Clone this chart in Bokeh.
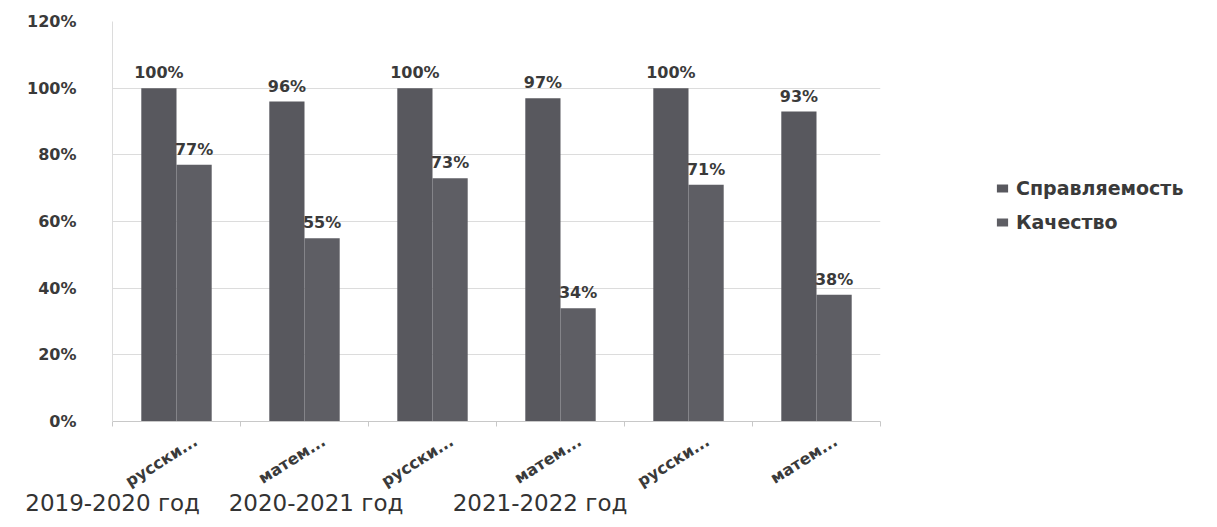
import math
from bokeh.plotting import figure
from bokeh.layouts import row
from bokeh.models import (ColumnDataSource, FixedTicker, NumeralTickFormatter, Legend,
                          LegendItem, LinearAxis, Range1d)
from bokeh.core.properties import value
from bokeh.embed import file_html
from bokeh.resources import INLINE

subjects = ["русски...", "матем...", "русски...", "матем...", "русски...", "матем..."]
years = ["2019-2020 год", "2020-2021 год", "2021-2022 год"]
series_names = ["Справляемость", "Качество"]
spravl = [1.00, 0.96, 1.00, 0.97, 1.00, 0.93]
kachestvo = [0.77, 0.55, 0.73, 0.34, 0.71, 0.38]
y_ticks = [0, 0.2, 0.4, 0.6, 0.8, 1.0, 1.2]

n = len(subjects)
xc = [i + 0.5 for i in range(n)]
bw = 0.275
c1 = "#58585e"
c2 = "#5e5e64"
txt = "#3a3a3a"
bold_font = "DejaVu Sans"

def pct(v):
    return f"{round(v * 100)}%"

src1 = ColumnDataSource(dict(x=[c - bw / 2 for c in xc], top=spravl, lab=[pct(v) for v in spravl]))
src2 = ColumnDataSource(dict(x=[c + bw / 2 for c in xc], top=kachestvo, lab=[pct(v) for v in kachestvo]))

p = figure(width=920, height=519, output_backend="svg", toolbar_location=None,
           x_range=Range1d(0, n), y_range=Range1d(0, 1.2),
           min_border_left=112, min_border_right=40, min_border_top=21, min_border_bottom=98)
p.outline_line_color = None

r1 = p.vbar(x="x", top="top", width=bw, source=src1, fill_color=c1, line_color=None)
r2 = p.vbar(x="x", top="top", width=bw, source=src2, fill_color=c2, line_color=None)

for s in (src1, src2):
    p.text(x="x", y="top", text="lab", source=s, text_align="center", text_baseline="bottom",
           y_offset=-6, text_font=value(bold_font), text_font_style="bold", text_font_size="16px",
           text_color=txt)

# category axis (labels slightly right of the bar pair, as in the picture)
label_shift = 0.15
lab_ticks = [c + label_shift for c in xc]
p.xaxis.ticker = FixedTicker(ticks=lab_ticks, minor_ticks=list(range(n + 1)))
p.xaxis.major_label_overrides = {c: s for c, s in zip(lab_ticks, subjects)}
p.xaxis.major_label_orientation = 0.56
p.xaxis.major_label_text_font = bold_font
p.xaxis.major_label_text_font_style = "bold"
p.xaxis.major_label_text_font_size = "16px"
p.xaxis.major_label_text_color = txt
p.xaxis.major_tick_line_color = None
p.xaxis.minor_tick_line_color = "#c8c8c8"
p.xaxis.minor_tick_out = 5
p.xaxis.minor_tick_in = 0
p.xaxis.axis_line_color = "#c8c8c8"
p.xaxis.major_label_standoff = 12

p.yaxis.ticker = FixedTicker(ticks=y_ticks)
p.yaxis.formatter = NumeralTickFormatter(format="0%")
p.yaxis.major_label_text_font = bold_font
p.yaxis.major_label_text_font_style = "bold"
p.yaxis.major_label_text_font_size = "16px"
p.yaxis.major_label_text_color = txt
p.yaxis.major_tick_line_color = None
p.yaxis.minor_tick_line_color = None
p.yaxis.axis_line_color = "#dcdcdc"
p.yaxis.major_label_standoff = 30

p.xgrid.grid_line_color = None
p.ygrid.grid_line_color = "#dcdcdc"

# year group labels: a second bottom axis
year_pos = [0.001, 1.59, 3.34]
ax2 = LinearAxis(ticker=FixedTicker(ticks=year_pos),
                 major_label_overrides={v: t for v, t in zip(year_pos, years)},
                 axis_line_color=None, major_tick_line_color=None, minor_tick_line_color=None,
                 major_label_text_font="DejaVu Sans", major_label_text_font_size="23px",
                 major_label_text_color="#333333", major_label_standoff=-18)
p.add_layout(ax2, "below")

# legend panel on the right (uses the same data sources, renderers hidden)
p2 = figure(width=280, height=519, output_backend="svg", toolbar_location=None,
            min_border=0, x_range=Range1d(0, 1), y_range=Range1d(0, 1))
p2.axis.visible = False
p2.grid.visible = False
p2.outline_line_color = None
g1 = p2.vbar(x="x", top="top", width=bw, source=src1, fill_color=c1, line_color=None, visible=False)
g2 = p2.vbar(x="x", top="top", width=bw, source=src2, fill_color=c2, line_color=None, visible=False)
legend = Legend(items=[LegendItem(label=series_names[0], renderers=[g1]),
                       LegendItem(label=series_names[1], renderers=[g2])],
                location=(75, 188), orientation="vertical",
                label_text_font=bold_font, label_text_font_style="bold",
                label_text_font_size="19px", label_text_color=txt,
                glyph_width=14, glyph_height=10, spacing=12,
                padding=0, margin=0, border_line_color=None, background_fill_alpha=0,
                label_standoff=7)
p2.add_layout(legend, "center")

layout = row(p, p2)
open("out.html", "w").write(file_html(layout, INLINE))
